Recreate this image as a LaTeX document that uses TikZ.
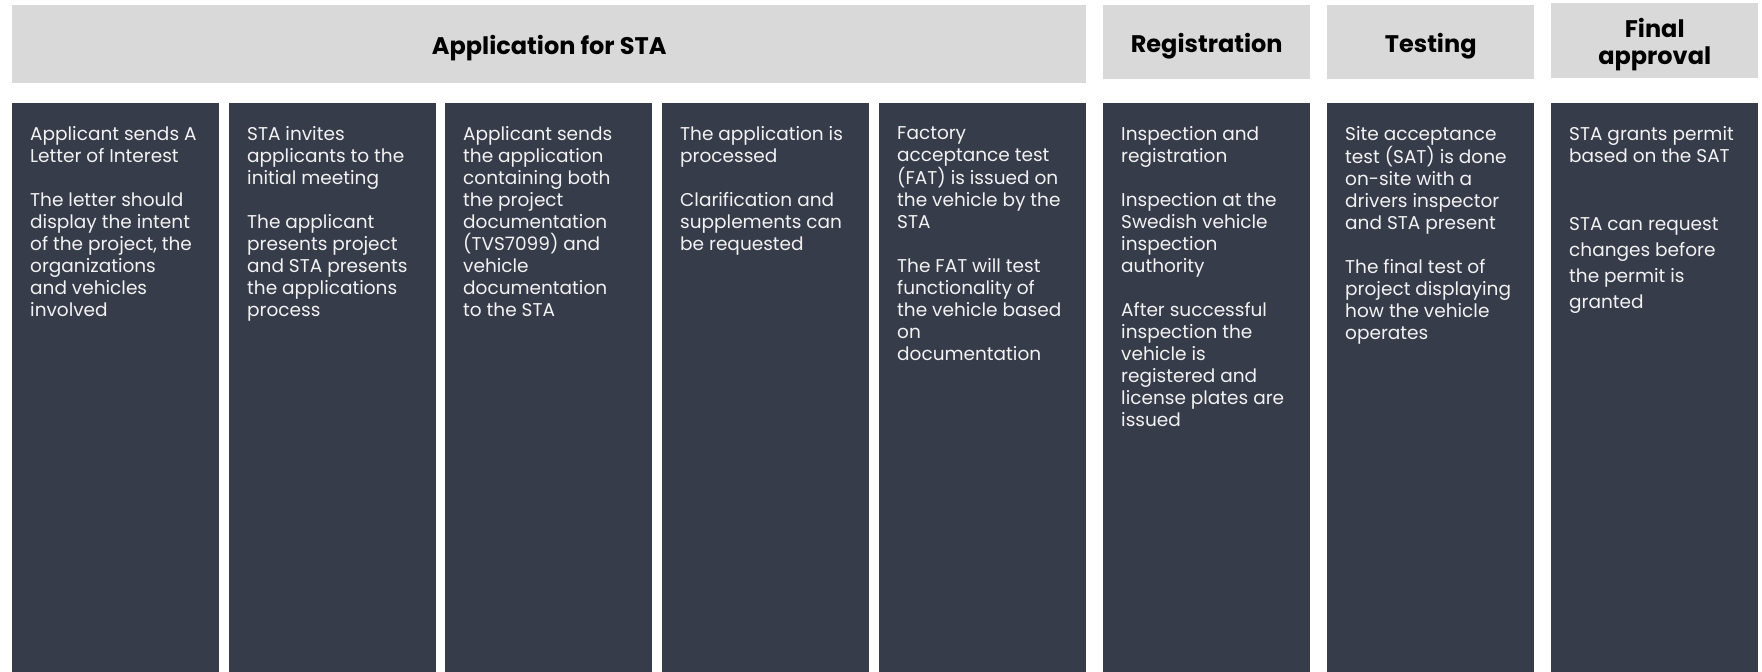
\documentclass[tikz,border=0pt]{standalone}
\usepackage{fontspec}
\setmainfont{Poppins}
\usepackage{tikz}
\usetikzlibrary{positioning}
\usepackage{xcolor}
\definecolor{headgray}{HTML}{D9D9D9}
\definecolor{slate}{RGB}{55,60,74}
\definecolor{paleink}{HTML}{F2F2F2}

\newcommand{\stepfont}{\fontsize{18.5bp}{22bp}\selectfont}
\newcommand{\phasefont}{\fontsize{24bp}{27bp}\selectfont\bfseries}

\begin{document}
\begin{tikzpicture}[
    x=1bp, y=1bp,
    phasebox/.style={rectangle, fill=headgray, draw=none, inner sep=0pt,
        anchor=south west},
    phaselabel/.style={yshift=-4.5bp, inner sep=0pt, align=center,
        font=\phasefont, text=black},
    stepbox/.style={rectangle, fill=slate, draw=none, inner sep=0pt,
        anchor=south west, minimum width=207bp, minimum height=569bp},
    steptext/.style={anchor=north west, inner sep=0pt, align=left,
        font=\stepfont, text=paleink}
]
    \useasboundingbox (0,0) rectangle (1762,672);

    % phase headers
    \node[phasebox, minimum width=1074bp, minimum height=78bp,
        label={[phaselabel]center:Application for STA}] (happ) at (12,589) {};
    \node[phasebox, minimum width=207bp, minimum height=74bp,
        label={[phaselabel]center:Registration}] (hreg) at (1103,593) {};
    \node[phasebox, minimum width=207bp, minimum height=74bp,
        label={[phaselabel]center:Testing}] (htest) at (1327,593) {};
    \node[phasebox, minimum width=207bp, minimum height=75bp,
        label={[phaselabel]center:Final\\approval}] (hfinal) at (1551,594) {};

    % step columns
    \node[stepbox] (s1) at (12,0) {};
    \node[stepbox] (s2) at (229,0) {};
    \node[stepbox] (s3) at (445,0) {};
    \node[stepbox] (s4) at (662,0) {};
    \node[stepbox] (s5) at (879,0) {};
    \node[stepbox] (s6) at (1103,0) {};
    \node[stepbox] (s7) at (1327,0) {};
    \node[stepbox] (s8) at (1551,0) {};

    \node[steptext] (t1) at ([xshift=18bp,yshift=-24bp]s1.north west)
        {Applicant sends A\\Letter of Interest\\[22bp]The letter should\\display the intent\\of the project, the\\organizations\\and vehicles\\involved};
    \node[steptext] (t2) at ([xshift=18bp,yshift=-24bp]s2.north west)
        {STA invites\\applicants to the\\initial meeting\\[22bp]The applicant\\presents project\\and STA presents\\the applications\\process};
    \node[steptext] (t3) at ([xshift=18bp,yshift=-24bp]s3.north west)
        {Applicant sends\\the application\\containing both\\the project\\documentation\\(TVS7099) and\\vehicle\\documentation\\to the STA};
    \node[steptext] (t4) at ([xshift=18bp,yshift=-24bp]s4.north west)
        {The application is\\processed\\[22bp]Clarification and\\supplements can\\be requested};
    \node[steptext] (t5) at ([xshift=18bp,yshift=-24bp]s5.north west)
        {Factory\\acceptance test\\(FAT) is issued on\\the vehicle by the\\STA\\[22bp]The FAT will test\\functionality of\\the vehicle based\\on\\documentation};
    \node[steptext] (t6) at ([xshift=18bp,yshift=-24bp]s6.north west)
        {Inspection and\\registration\\[22bp]Inspection at the\\Swedish vehicle\\inspection\\authority\\[22bp]After successful\\inspection the\\vehicle is\\registered and\\license plates are\\issued};
    \node[steptext] (t7) at ([xshift=18bp,yshift=-24bp]s7.north west)
        {Site acceptance\\test (SAT) is done\\on-site with a\\drivers inspector\\and STA present\\[22bp]The final test of\\project displaying\\how the vehicle\\operates};
    \node[steptext] (t8) at ([xshift=18bp,yshift=-24bp]s8.north west)
        {STA grants permit\\based on the SAT\\[46bp]STA can request\\[4bp]changes before\\[4bp]the permit is\\[4bp]granted};
\end{tikzpicture}
\end{document}
